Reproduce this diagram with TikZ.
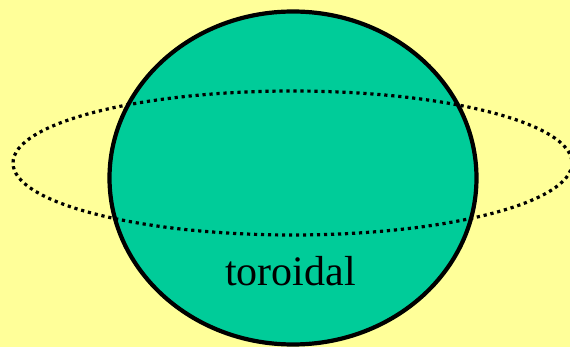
\documentclass[tikz,border=0pt]{standalone}
\usepackage{fontspec}
\setmainfont{Liberation Serif}
\usepackage{tikz}
\definecolor{torbg}{HTML}{FFFF99}
\definecolor{torgreen}{HTML}{00CC99}
\tikzset{
  globe/.style={fill=torgreen,draw=black,line width=4.2pt},
  ring/.style={draw=black,line width=3.2pt,dash pattern=on 3.2pt off 3.8pt},
  lbl/.style={font=\fontsize{42}{42}\selectfont,inner sep=0pt,anchor=base},
}
\begin{document}
\begin{tikzpicture}[x=1pt,y=-1pt]
  \fill[torbg] (0,0) rectangle (570,347);
  \useasboundingbox (0,0) rectangle (570,347);
  \filldraw[globe] (293,178) ellipse [x radius=183.5, y radius=166.5];
  \draw[ring] (292.5,163) ellipse [x radius=279.5, y radius=72];
  \node[lbl] (toroidal) at (290.5,286) {toroidal};
\end{tikzpicture}
\end{document}
